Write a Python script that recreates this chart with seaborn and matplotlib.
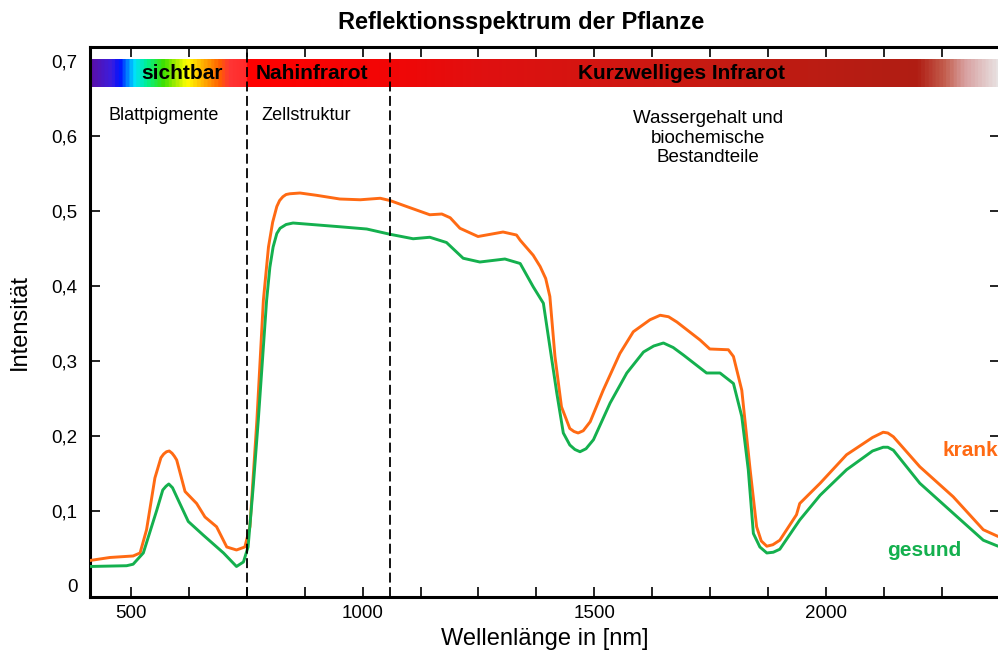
import numpy as np
import pandas as pd
import matplotlib
matplotlib.use("Agg")
import matplotlib.pyplot as plt
import seaborn as sns
from matplotlib.colors import LinearSegmentedColormap

# ---------------- data ----------------
krank_nm = [412, 455, 505, 520, 534, 552, 565, 571, 577, 583, 589, 594, 599, 617, 642, 660,
            685, 707, 728, 746, 757, 772, 786, 797, 806, 815, 821, 828, 835, 843, 865, 900,
            951, 995, 1038, 1059, 1095, 1145, 1171, 1189, 1210, 1249, 1303, 1332, 1340, 1368,
            1383, 1395, 1404, 1415, 1429, 1447, 1456, 1465, 1476, 1491, 1519, 1555, 1584, 1620,
            1642, 1660, 1678, 1728, 1749, 1789, 1800, 1818, 1836, 1850, 1860, 1872, 1885,
            1900, 1936, 1943, 1987, 2044, 2100, 2123, 2133, 2145, 2202, 2274, 2339, 2371]
krank_val = [0.034, 0.038, 0.040, 0.044, 0.075, 0.144, 0.171, 0.176, 0.179, 0.180, 0.177,
             0.173, 0.168, 0.126, 0.110, 0.092, 0.079, 0.052, 0.048, 0.052, 0.079, 0.221,
             0.381, 0.452, 0.485, 0.506, 0.514, 0.519, 0.522, 0.523, 0.524, 0.521, 0.516,
             0.515, 0.517, 0.514, 0.506, 0.495, 0.496, 0.491, 0.477, 0.466, 0.472, 0.468,
             0.461, 0.441, 0.426, 0.410, 0.386, 0.306, 0.239, 0.210, 0.206, 0.204, 0.207, 0.219,
             0.261, 0.310, 0.339, 0.355, 0.361, 0.359, 0.352, 0.328, 0.316, 0.315, 0.306,
             0.261, 0.155, 0.079, 0.060, 0.053, 0.055, 0.061, 0.095, 0.110, 0.137, 0.175,
             0.198, 0.205, 0.204, 0.199, 0.159, 0.119, 0.075, 0.066]

gesund_nm = [412, 491, 505, 527, 556, 569, 576, 582, 590, 602, 624, 656, 700, 728, 743, 753,
             764, 775, 793, 800, 807, 815, 822, 835, 850, 951, 1009, 1059, 1109, 1145, 1181,
             1217, 1253, 1307, 1340, 1368, 1390, 1404, 1419, 1433, 1447, 1458, 1469, 1482,
             1498, 1534, 1570, 1606, 1628, 1649, 1670, 1692, 1742, 1771, 1800, 1818, 1832,
             1843, 1857, 1872, 1886, 1900, 1943, 1987, 2044, 2100, 2123, 2133, 2145, 2202,
             2274, 2339, 2371]
gesund_val = [0.026, 0.027, 0.029, 0.044, 0.101, 0.128, 0.133, 0.136, 0.131, 0.115, 0.086,
              0.068, 0.044, 0.026, 0.032, 0.052, 0.132, 0.221, 0.381, 0.425, 0.452, 0.470,
              0.477, 0.482, 0.484, 0.479, 0.476, 0.469, 0.463, 0.465, 0.458, 0.437, 0.432,
              0.436, 0.430, 0.399, 0.377, 0.319, 0.257, 0.204, 0.188, 0.182, 0.179, 0.183,
              0.195, 0.244, 0.284, 0.312, 0.320, 0.324, 0.318, 0.308, 0.284, 0.284, 0.270,
              0.226, 0.155, 0.070, 0.052, 0.044, 0.045, 0.049, 0.088, 0.121, 0.155, 0.180,
              0.185, 0.185, 0.181, 0.137, 0.097, 0.061, 0.053]

y_ticks = [0.0, 0.1, 0.2, 0.3, 0.4, 0.5, 0.6, 0.7]
y_tick_labels = ["0", "0,1", "0,2", "0,3", "0,4", "0,5", "0,6", "0,7"]
x_ticks = [500, 625, 750, 875, 1000, 1125, 1250, 1375, 1500, 1625, 1750, 1875, 2000, 2125, 2250, 2375]
x_tick_labels = ["500", "", "", "", "1000", "", "", "", "1500", "", "", "", "2000", "", "", ""]
region_bounds = [750, 1059]

COL_KRANK = "#FF6A13"
COL_GESUND = "#14B04E"

df = pd.concat([
    pd.DataFrame({"nm": krank_nm, "val": krank_val, "Zustand": "krank"}),
    pd.DataFrame({"nm": gesund_nm, "val": gesund_val, "Zustand": "gesund"}),
])

# ---------------- style ----------------
sns.set_style("white")
plt.rcParams["font.family"] = ["Liberation Sans", "DejaVu Sans"]
plt.rcParams["text.color"] = "black"
plt.rcParams["axes.labelcolor"] = "black"

fig = plt.figure(figsize=(9.98, 6.57), dpi=100)
ax = fig.add_axes([90 / 998, 60 / 657, 910 / 998, 550 / 657])

XMIN, XMAX = 412, 2375
YMIN, YMAX = -0.0147, 0.7187

# spectrum colour bar
stops = [(412, "#5a10a8"), (455, "#3a1ee0"), (472, "#0010ff"), (503, "#00e0ff"),
         (531, "#00f090"), (567, "#40e000"), (602, "#c8f000"), (617, "#ffff00"),
         (660, "#ffa000"), (688, "#ff6000"), (710, "#ff3535"), (746, "#ff2a2a"),
         (751, "#ff0000"), (1059, "#f20606"), (1253, "#e01010"), (1727, "#c81a12"),
         (2202, "#b01e14"), (2261, "#c46050"), (2304, "#d8a0a0"), (2375, "#e8e2e2")]
pos = [(s[0] - XMIN) / (XMAX - XMIN) for s in stops]
cmap = LinearSegmentedColormap.from_list("spec", list(zip(pos, [s[1] for s in stops])))
grad = np.linspace(0, 1, 1200).reshape(1, -1)
ax.imshow(grad, extent=[XMIN, XMAX, 0.665, 0.7023], aspect="auto", cmap=cmap,
          zorder=1, interpolation="bilinear")

sns.lineplot(data=df, x="nm", y="val", hue="Zustand",
             palette={"krank": COL_KRANK, "gesund": COL_GESUND},
             estimator=None, sort=False, linewidth=2.1, legend=False, ax=ax, zorder=3,
             solid_joinstyle="round", solid_capstyle="round")

for b in region_bounds:
    ax.axvline(b, color="black", lw=1.3, dashes=(5.5, 2.5), zorder=4)

ax.set_xlim(XMIN, XMAX)
ax.set_ylim(YMIN, YMAX)

ax.set_xticks(x_ticks)
ax.set_xticklabels(x_tick_labels, fontsize=13.5)
ax.set_yticks(y_ticks)
ax.set_yticklabels(y_tick_labels, fontsize=13.5)
ax.tick_params(axis="both", direction="in", length=7, width=1.2, top=True, right=True,
               bottom=True, left=True, color="black", labelcolor="black")
ax.tick_params(axis="x", pad=6)
ax.tick_params(axis="y", pad=9)
t0 = ax.yaxis.get_major_ticks()[0]
t0.tick1line.set_visible(False)
t0.tick2line.set_visible(False)

for s in ax.spines.values():
    s.set_linewidth(2.2)
    s.set_color("black")

ax.set_xlabel("Wellenlänge in [nm]", fontsize=17, labelpad=4)
ax.set_ylabel("Intensität", fontsize=17, labelpad=15)

fig.text(521 / 998, 1 - 22 / 657, "Reflektionsspektrum der Pflanze", ha="center", va="center",
         fontsize=17, fontweight="bold")

bar_y = 0.684
ax.text(610, bar_y, "sichtbar", ha="center", va="center", fontsize=15, fontweight="bold", zorder=5)
ax.text(891, bar_y, "Nahinfrarot", ha="center", va="center", fontsize=15, fontweight="bold", zorder=5)
ax.text(1687, bar_y, "Kurzwelliges Infrarot", ha="center", va="center", fontsize=15,
        fontweight="bold", zorder=5)

ax.text(572, 0.627, "Blattpigmente", ha="center", va="center", fontsize=13, zorder=5)
ax.text(878, 0.627, "Zellstruktur", ha="center", va="center", fontsize=13, zorder=5)
ax.text(1745, 0.597, "Wassergehalt und\nbiochemische\nBestandteile", ha="center", va="center",
        multialignment="center", fontsize=13.5, linespacing=1.2, zorder=5)

ax.text(2310, 0.180, "krank", ha="center", va="center", fontsize=15, fontweight="bold",
        color=COL_KRANK, zorder=5)
ax.text(2211, 0.047, "gesund", ha="center", va="center", fontsize=15, fontweight="bold",
        color=COL_GESUND, zorder=5)

fig.savefig("out.png", dpi=100)
